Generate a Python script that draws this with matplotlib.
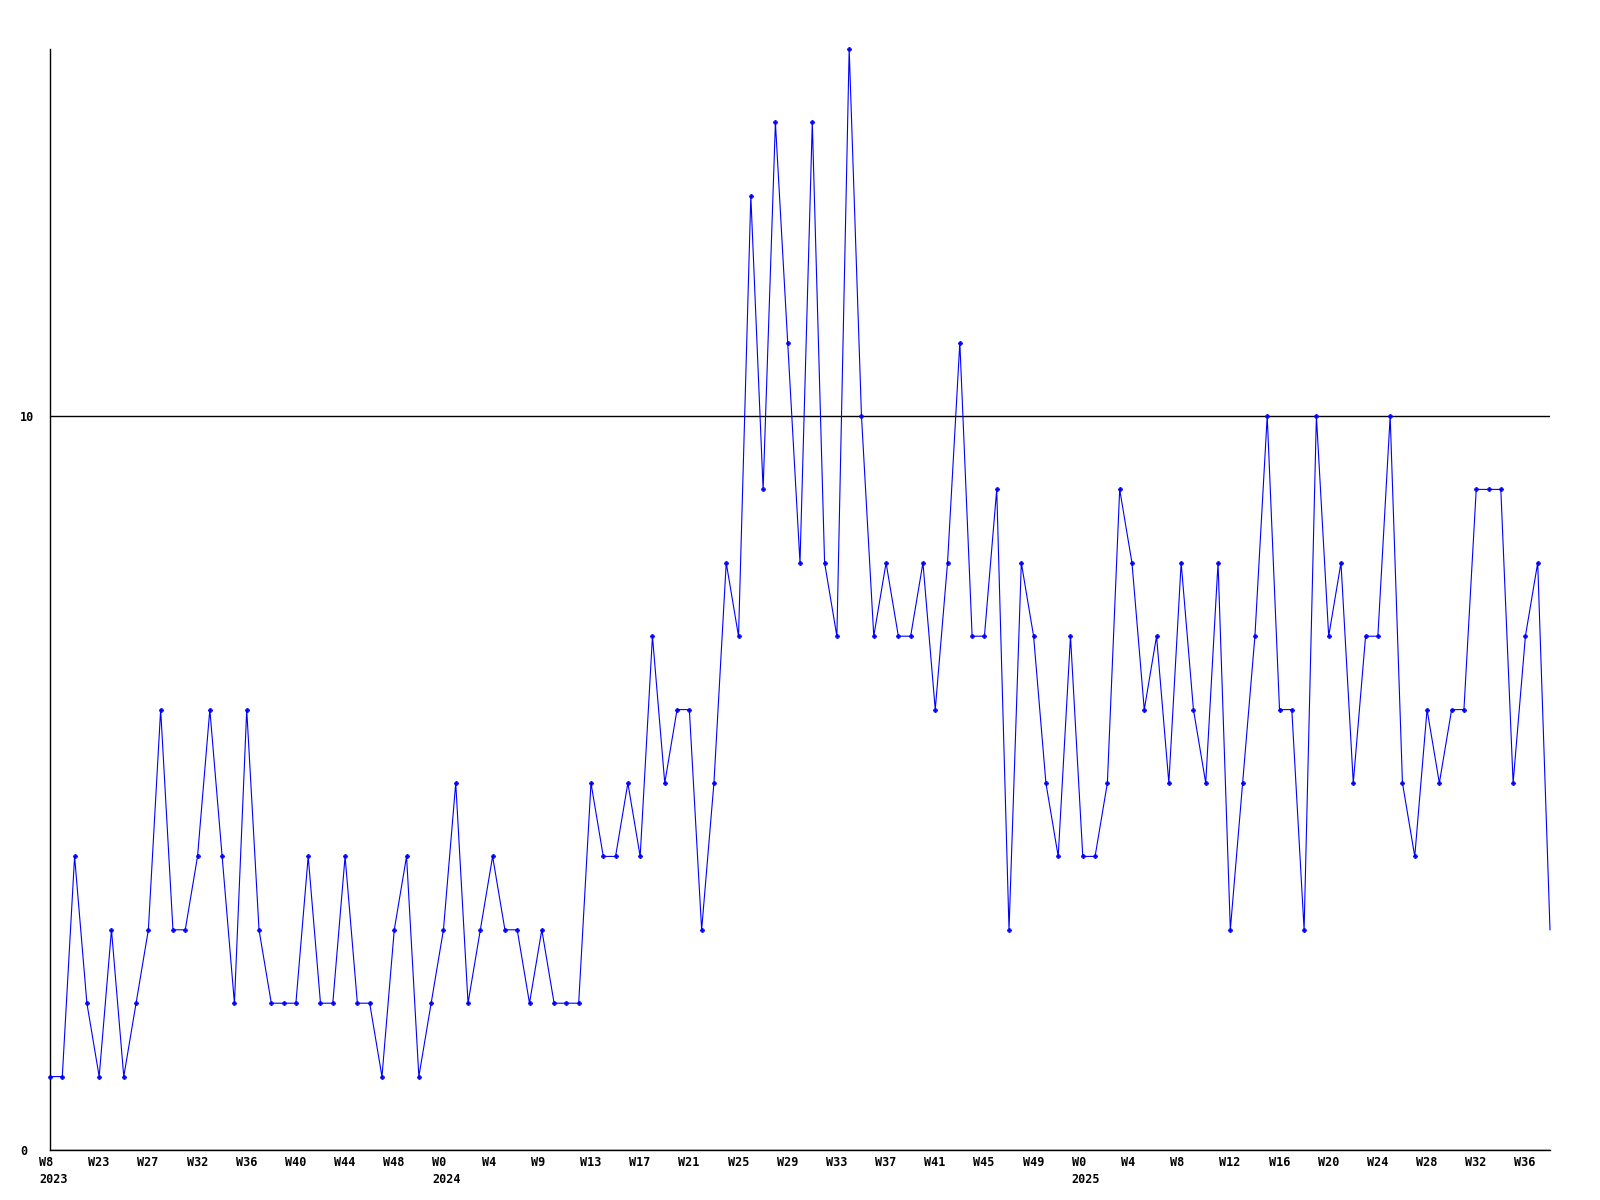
import numpy as np
import matplotlib.pyplot as plt
import matplotlib.transforms as mtransforms

# weekly counts
values = [1, 1, 4, 2, 1, 3, 1, 2, 3, 6,
          3, 3, 4, 6, 4, 2, 6, 3, 2, 2,
          2, 4, 2, 2, 4, 2, 2, 1, 3, 4,
          1, 2, 3, 5, 2, 3, 4, 3, 3, 2,
          3, 2, 2, 2, 5, 4, 4, 5, 4, 7,
          5, 6, 6, 3, 5, 8, 7, 13, 9, 14,
          11, 8, 14, 8, 7, 15, 10, 7, 8, 7,
          7, 8, 6, 8, 11, 7, 7, 9, 3, 8,
          7, 5, 4, 7, 4, 4, 5, 9, 8, 6,
          7, 5, 8, 6, 5, 8, 3, 5, 7, 10,
          6, 6, 3, 10, 7, 8, 5, 7, 7, 10,
          5, 4, 6, 5, 6, 6, 9, 9, 9, 5,
          7, 8, 3]

tick_pos = list(range(0, 121, 4))
tick_labels = ["W8\n2023", "W23", "W27", "W32", "W36", "W40", "W44", "W48",
               "W0\n2024", "W4", "W9", "W13", "W17", "W21", "W25", "W29",
               "W33", "W37", "W41", "W45", "W49", "W0\n2025", "W4", "W8",
               "W12", "W16", "W20", "W24", "W28", "W32", "W36"]

x = np.arange(len(values))

fig = plt.figure(figsize=(16, 12), dpi=100)
ax = fig.add_axes([50 / 1600, 50 / 1200, 1500 / 1600, 1101 / 1200])

ax.plot(x, values, color='#0000ff', lw=0.8, marker='P', ms=3,
        mec='#0000ff', mfc='#0000ff', mew=0.5,
        markevery=slice(0, len(values) - 1),
        clip_on=False, zorder=3)

ax.set_xlim(0, len(values) - 1)
ax.set_ylim(0, 15)

ax.set_yticks([0, 10])
ax.set_yticklabels(["0", "10"], family='DejaVu Sans Mono', weight='bold',
                   fontsize=8.5, ha='left')
ax.set_xticks(tick_pos)
ax.set_xticklabels([])

# week labels start a little left of their point
trans = mtransforms.blended_transform_factory(ax.transData, ax.transAxes)
trans = trans + mtransforms.ScaledTranslation(-11 / 100, -6 / 100, fig.dpi_scale_trans)
for p, lab in zip(tick_pos, tick_labels):
    ax.text(p, 0, lab, transform=trans, ha='left', va='top',
            family='DejaVu Sans Mono', weight='bold', fontsize=8.5, linespacing=1.4)

ax.tick_params(axis='both', length=0)
ax.tick_params(axis='y', pad=21.5)
ax.grid(axis='y', color='black', lw=1)
ax.set_axisbelow(True)

for s in ['top', 'right']:
    ax.spines[s].set_visible(False)
for s in ['left', 'bottom']:
    ax.spines[s].set_color('black')
    ax.spines[s].set_linewidth(1)

fig.savefig('out.png', dpi=100)
